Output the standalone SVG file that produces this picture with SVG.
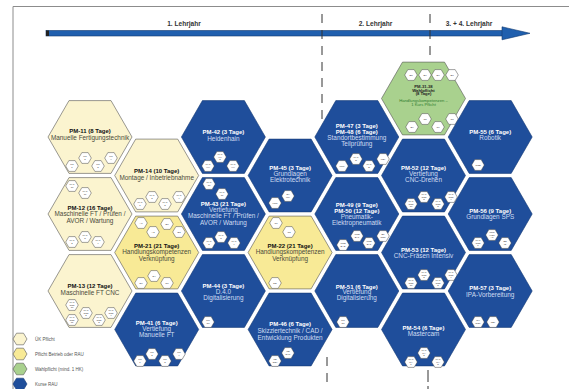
<svg xmlns="http://www.w3.org/2000/svg" xmlns:xlink="http://www.w3.org/1999/xlink" width="569" height="389" viewBox="0 0 569 389">
<style>
text{font-family:"Liberation Sans",Arial,sans-serif;text-anchor:middle}
.uk{fill:#fbf4cf;stroke:#555;stroke-width:.6}
.pf{fill:#f8ea96;stroke:#555;stroke-width:.6}
.wp{fill:#a9d18e;stroke:#555;stroke-width:.6}
.bl{fill:#1f4e9b;stroke:#163a75;stroke-width:.6}
.bd{fill:#fff;stroke:#333;stroke-width:.45}
.tk{font-size:6px;font-weight:bold;fill:#111}
.sk{font-size:6.4px;fill:#4a4a3a}
.tw{font-size:6px;font-weight:bold;fill:#fff}
.sw{font-size:6.4px;fill:#cfdcf2}
.tg{font-size:4.2px;font-weight:bold;fill:#222}
.sg{font-size:4.2px;fill:#2f7d2f}
.bt{font-size:2.4px;fill:#333}
.lg{font-size:4.5px;fill:#555;text-anchor:start}
.yr{font-size:6.6px;font-weight:bold;fill:#333}
.dash{stroke:#333;stroke-width:1;stroke-dasharray:9 7;fill:none}
</style>
<defs>
<polygon id="hx" points="-42,0 -21,-36.4 21,-36.4 42,0 21,36.4 -21,36.4"/>
<polygon id="sb" points="-6.3,0 -3.15,-5.4 3.15,-5.4 6.3,0 3.15,5.4 -3.15,5.4"/>
<polygon id="lh" points="-7,0 -3.5,-5.8 3.5,-5.8 7,0 3.5,5.8 -3.5,5.8"/>
</defs>

<g id="frame">
<line x1="13" y1="6.5" x2="569" y2="6.5" stroke="#8c8c8c" stroke-width="1"/>
<line x1="13" y1="6.5" x2="13" y2="389" stroke="#8c8c8c" stroke-width="1"/>
</g>

<g id="timeline">
<rect x="46" y="30.5" width="458" height="5.5" fill="#1f5fae" stroke="#123a70" stroke-width=".6"/>
<rect x="46" y="30.5" width="3" height="5.5" fill="#222"/>
<polygon points="502,26.8 530,33.3 502,39.8" fill="#1f5fae" stroke="#123a70" stroke-width=".6"/>
<text class="yr" x="184" y="26">1. Lehrjahr</text>
<text class="yr" x="375.5" y="26">2. Lehrjahr</text>
<text class="yr" x="469" y="26">3. + 4. Lehrjahr</text>
</g>

<g id="connectors">
<line class="dash" x1="322" y1="14" x2="322" y2="122"/>
<line class="dash" x1="430" y1="14" x2="430" y2="60"/>
<line class="dash" x1="327" y1="357" x2="327" y2="389"/>
<line x1="428" y1="370" x2="428" y2="382" stroke="#333" stroke-width="1"/>
<line x1="428" y1="386" x2="428" y2="389" stroke="#333" stroke-width="1"/>
</g>

<g id="pm11">
<use xlink:href="#hx" x="90" y="137" class="uk"/>
<text class="tk" x="90" y="133">PM-11 (8 Tage)</text>
<text class="sk" x="90" y="139.5">Manuelle Fertigungstechnik</text>
<use xlink:href="#sb" x="72" y="166" class="bd"/><text class="bt" x="72" y="165.4">MT</text><text class="bt" x="72" y="168.2">1</text>
<use xlink:href="#sb" x="85" y="158" class="bd"/><text class="bt" x="85" y="157.4">MT</text><text class="bt" x="85" y="160.2">2</text>
<use xlink:href="#sb" x="98" y="166" class="bd"/><text class="bt" x="98" y="165.4">MT</text><text class="bt" x="98" y="168.2">3</text>
<use xlink:href="#sb" x="111" y="158" class="bd"/><text class="bt" x="111" y="157.4">MT</text><text class="bt" x="111" y="160.2">4</text>
</g>

<g id="pm12">
<use xlink:href="#hx" x="90" y="214" class="uk"/>
<text class="tk" x="90" y="210">PM-12 (16 Tage)</text>
<text class="sk" x="90" y="216.3">Maschinelle FT / Prüfen /</text>
<text class="sk" x="90" y="222.6">AVOR / Wartung</text>
<use xlink:href="#sb" x="72" y="186" class="bd"/><text class="bt" x="72" y="185.4">MAT</text><text class="bt" x="72" y="188.2">10</text>
<use xlink:href="#sb" x="85" y="193" class="bd"/><text class="bt" x="85" y="192.4">MAT</text><text class="bt" x="85" y="195.2">17</text>
<use xlink:href="#sb" x="72" y="242" class="bd"/><text class="bt" x="72" y="241.4">MAT</text><text class="bt" x="72" y="244.2">2</text>
<use xlink:href="#sb" x="85" y="237" class="bd"/><text class="bt" x="85" y="236.4">MAT</text><text class="bt" x="85" y="239.2">3</text>
<use xlink:href="#sb" x="98" y="242" class="bd"/><text class="bt" x="98" y="241.4">MAT</text><text class="bt" x="98" y="244.2">4</text>
</g>

<g id="pm13">
<use xlink:href="#hx" x="90" y="291" class="uk"/>
<text class="tk" x="90" y="288">PM-13 (12 Tage)</text>
<text class="sk" x="90" y="294.5">Maschinelle FT CNC</text>
<use xlink:href="#sb" x="72" y="305" class="bd"/><text class="bt" x="72" y="303.4">MAT</text><text class="bt" x="72" y="305.8">CNC</text><text class="bt" x="72" y="308.2">10</text>
<use xlink:href="#sb" x="72" y="320" class="bd"/><text class="bt" x="72" y="318.4">MAT</text><text class="bt" x="72" y="320.8">CNC</text><text class="bt" x="72" y="323.2">11</text>
<use xlink:href="#sb" x="86" y="313" class="bd"/><text class="bt" x="86" y="311.4">MAT</text><text class="bt" x="86" y="313.8">CNC</text><text class="bt" x="86" y="316.2">2</text>
<use xlink:href="#sb" x="99" y="320" class="bd"/><text class="bt" x="99" y="318.4">MAT</text><text class="bt" x="99" y="320.8">CNC</text><text class="bt" x="99" y="323.2">3</text>
<use xlink:href="#sb" x="111" y="313" class="bd"/><text class="bt" x="111" y="311.4">MAT</text><text class="bt" x="111" y="313.8">CNC</text><text class="bt" x="111" y="316.2">4</text>
</g>

<g id="pm14">
<use xlink:href="#hx" x="156.7" y="175.5" class="uk"/>
<text class="tk" x="156.7" y="173">PM-14 (10 Tage)</text>
<text class="sk" x="156.7" y="179.5">Montage / Inbetriebnahme</text>
<use xlink:href="#sb" x="140" y="204" class="bd"/><text class="bt" x="140" y="203.4">MAT</text><text class="bt" x="140" y="206.2">1</text>
<use xlink:href="#sb" x="152" y="197" class="bd"/><text class="bt" x="152" y="196.4">MAT</text><text class="bt" x="152" y="199.2">2</text>
<use xlink:href="#sb" x="165" y="204" class="bd"/><text class="bt" x="165" y="203.4">MAT</text><text class="bt" x="165" y="206.2">3</text>
<use xlink:href="#sb" x="179" y="197" class="bd"/><text class="bt" x="179" y="196.4">MAT</text><text class="bt" x="179" y="199.2">4</text>
</g>

<g id="pm21">
<use xlink:href="#hx" x="156.7" y="252.5" class="pf"/>
<text class="tk" x="156.7" y="248">PM-21 (21 Tage)</text>
<text class="sk" x="156.7" y="254.3">Handlungskompetenzen</text>
<text class="sk" x="156.7" y="261">Verknüpfung</text>
<use xlink:href="#sb" x="141" y="223" class="bd"/><text class="bt" x="141" y="223.8">A1</text>
<use xlink:href="#sb" x="153" y="232" class="bd"/><text class="bt" x="153" y="232.8">A2</text>
<use xlink:href="#sb" x="167" y="224" class="bd"/><text class="bt" x="167" y="224.8">B1</text>
<use xlink:href="#sb" x="179" y="232" class="bd"/><text class="bt" x="179" y="232.8">B2</text>
<use xlink:href="#sb" x="141" y="283" class="bd"/><text class="bt" x="141" y="283.8">E1</text>
<use xlink:href="#sb" x="154" y="276" class="bd"/><text class="bt" x="154" y="276.8">E4</text>
<use xlink:href="#sb" x="167" y="283" class="bd"/><text class="bt" x="167" y="283.8">D1</text>
</g>

<g id="pm41">
<use xlink:href="#hx" x="156.7" y="329.5" class="bl"/>
<text class="tw" x="156.7" y="324.5">PM-41 (6 Tage)</text>
<text class="sw" x="156.7" y="330.5">Vertiefung</text>
<text class="sw" x="156.7" y="336.5">Manuelle FT</text>
<use xlink:href="#sb" x="140" y="361" class="bd"/><text class="bt" x="140" y="360.4">MT</text><text class="bt" x="140" y="363.2">1</text>
<use xlink:href="#sb" x="152" y="354" class="bd"/><text class="bt" x="152" y="353.4">MT</text><text class="bt" x="152" y="356.2">2</text>
<use xlink:href="#sb" x="165" y="361" class="bd"/><text class="bt" x="165" y="360.4">MT</text><text class="bt" x="165" y="363.2">3</text>
<use xlink:href="#sb" x="179" y="354" class="bd"/><text class="bt" x="179" y="353.4">MT</text><text class="bt" x="179" y="356.2">4</text>
</g>

<g id="pm42">
<use xlink:href="#hx" x="223.4" y="137" class="bl"/>
<text class="tw" x="223.4" y="134">PM-42 (3 Tage)</text>
<text class="sw" x="223.4" y="140.5">Heidenhain</text>
<use xlink:href="#sb" x="208" y="166" class="bd"/><text class="bt" x="208" y="165.4">MAT</text><text class="bt" x="208" y="168.2">HH</text>
<use xlink:href="#sb" x="220" y="157" class="bd"/><text class="bt" x="220" y="155.4">MAT</text><text class="bt" x="220" y="157.8">HH</text><text class="bt" x="220" y="160.2">2</text>
<use xlink:href="#sb" x="233" y="166" class="bd"/><text class="bt" x="233" y="165.4">MAT</text><text class="bt" x="233" y="168.2">HH</text>
</g>

<g id="pm43">
<use xlink:href="#hx" x="223.4" y="214" class="bl"/>
<text class="tw" x="223.4" y="206">PM-43 (21 Tage)</text>
<text class="sw" x="223.4" y="212">Vertiefung</text>
<text class="sw" x="223.4" y="218.3">Maschinelle FT / Prüfen /</text>
<text class="sw" x="223.4" y="224.6">AVOR / Wartung</text>
<use xlink:href="#sb" x="209" y="184" class="bd"/><text class="bt" x="209" y="183.4">MAT</text><text class="bt" x="209" y="186.2">10</text>
<use xlink:href="#sb" x="222" y="194" class="bd"/><text class="bt" x="222" y="193.4">MAT</text><text class="bt" x="222" y="196.2">17</text>
<use xlink:href="#sb" x="209" y="243" class="bd"/><text class="bt" x="209" y="242.4">MAT</text><text class="bt" x="209" y="245.2">2</text>
<use xlink:href="#sb" x="221" y="237" class="bd"/><text class="bt" x="221" y="236.4">MAT</text><text class="bt" x="221" y="239.2">3</text>
<use xlink:href="#sb" x="234" y="243" class="bd"/><text class="bt" x="234" y="242.4">MAT</text><text class="bt" x="234" y="245.2">4</text>
</g>

<g id="pm44">
<use xlink:href="#hx" x="223.4" y="291" class="bl"/>
<text class="tw" x="223.4" y="288">PM-44 (3 Tage)</text>
<text class="sw" x="223.4" y="294">D.4.0</text>
<text class="sw" x="223.4" y="300">Digitalisierung</text>
<use xlink:href="#sb" x="208" y="322" class="bd"/><text class="bt" x="208" y="321.4">PM</text><text class="bt" x="208" y="324.2">C1</text>
</g>

<g id="pm45">
<use xlink:href="#hx" x="290.1" y="175.5" class="bl"/>
<text class="tw" x="290.1" y="170">PM-45 (3 Tage)</text>
<text class="sw" x="290.1" y="176.2">Grundlagen</text>
<text class="sw" x="290.1" y="182.4">Elektrotechnik</text>
<use xlink:href="#sb" x="275" y="203" class="bd"/><text class="bt" x="275" y="203.8">LRR</text>
<use xlink:href="#sb" x="288" y="196" class="bd"/><text class="bt" x="288" y="195.4">EV</text><text class="bt" x="288" y="198.2">WK</text>
</g>

<g id="pm22">
<use xlink:href="#hx" x="290.1" y="252.5" class="pf"/>
<text class="tk" x="290.1" y="248">PM-22 (21 Tage)</text>
<text class="sk" x="290.1" y="254.3">Handlungskompetenzen</text>
<text class="sk" x="290.1" y="261">Verknüpfung</text>
<use xlink:href="#sb" x="276" y="223" class="bd"/><text class="bt" x="276" y="223.8">C1</text>
<use xlink:href="#sb" x="289" y="232" class="bd"/><text class="bt" x="289" y="232.8">C2</text>
<use xlink:href="#sb" x="275" y="283" class="bd"/><text class="bt" x="275" y="283.8">DE</text>
</g>

<g id="pm46">
<use xlink:href="#hx" x="290.1" y="329.5" class="bl"/>
<text class="tw" x="290.1" y="326">PM-46 (6 Tage)</text>
<text class="sw" x="290.1" y="332.8">Skizziertechnik / CAD /</text>
<text class="sw" x="290.1" y="339.6">Entwicklung Produkten</text>
<use xlink:href="#sb" x="275" y="361" class="bd"/><text class="bt" x="275" y="360.4">PE</text><text class="bt" x="275" y="363.2">DE4</text>
<use xlink:href="#sb" x="288" y="353" class="bd"/><text class="bt" x="288" y="352.4">PE</text><text class="bt" x="288" y="355.2">EXP</text>
</g>

<g id="pm47">
<use xlink:href="#hx" x="356.8" y="137" class="bl"/>
<text class="tw" x="356.8" y="128">PM-47 (3 Tage)</text>
<text class="tw" x="356.8" y="134">PM-48 (6 Tage)</text>
<text class="sw" x="356.8" y="140">Standortbestimmung</text>
<text class="sw" x="356.8" y="146">Teilprüfung</text>
<use xlink:href="#sb" x="342" y="166" class="bd"/><text class="bt" x="342" y="166.8">MPT</text>
<use xlink:href="#sb" x="356" y="159" class="bd"/><text class="bt" x="356" y="158.4">MAT</text><text class="bt" x="356" y="161.2">D</text>
<use xlink:href="#sb" x="369" y="166" class="bd"/><text class="bt" x="369" y="165.4">MAT</text><text class="bt" x="369" y="168.2">E</text>
<use xlink:href="#sb" x="383" y="159" class="bd"/><text class="bt" x="383" y="159.8">MEI</text>
</g>

<g id="pm49">
<use xlink:href="#hx" x="356.8" y="214" class="bl"/>
<text class="tw" x="356.8" y="207">PM-49 (9 Tage)</text>
<text class="tw" x="356.8" y="213">PM-50 (12 Tage)</text>
<text class="sw" x="356.8" y="219">Pneumatik-</text>
<text class="sw" x="356.8" y="225">Elektropneumatik</text>
<use xlink:href="#sb" x="343" y="245" class="bd"/><text class="bt" x="343" y="244.4">UNS</text><text class="bt" x="343" y="247.2">BAS</text>
<use xlink:href="#sb" x="357" y="236" class="bd"/><text class="bt" x="357" y="235.4">UNS</text><text class="bt" x="357" y="238.2">BAT</text>
<use xlink:href="#sb" x="369" y="243" class="bd"/><text class="bt" x="369" y="242.4">UNS</text><text class="bt" x="369" y="245.2">BAT</text>
<use xlink:href="#sb" x="383" y="236" class="bd"/><text class="bt" x="383" y="235.4">BT</text><text class="bt" x="383" y="238.2">NZR</text>
</g>

<g id="pm51">
<use xlink:href="#hx" x="356.8" y="291" class="bl"/>
<text class="tw" x="356.8" y="288.5">PM-51 (6 Tage)</text>
<text class="sw" x="356.8" y="294.3">Vertiefung</text>
<text class="sw" x="356.8" y="300">Digitalisierung</text>
<use xlink:href="#sb" x="343" y="322" class="bd"/><text class="bt" x="343" y="321.4">PM</text><text class="bt" x="343" y="324.2">C1</text>
</g>

<g id="pm31">
<use xlink:href="#hx" x="423.5" y="98.5" class="wp"/>
<text class="tg" x="423.5" y="88">PM-31-38</text>
<text class="tg" x="423.5" y="91.6">Wahlpflicht</text>
<text class="tg" x="423.5" y="95.2">(8 Tage)</text>
<text class="sg" x="423.5" y="102.3">Handlungskompetenzen –</text>
<text class="sg" x="423.5" y="105.8">1 Kurs Pflicht</text>
<use xlink:href="#sb" x="411" y="75" class="bd"/><text class="bt" x="411" y="75.8">B5</text>
<use xlink:href="#sb" x="425" y="75" class="bd"/><text class="bt" x="425" y="75.8">B6</text>
<use xlink:href="#sb" x="438" y="75" class="bd"/><text class="bt" x="438" y="75.8">B7</text>
<use xlink:href="#sb" x="452" y="75" class="bd"/><text class="bt" x="452" y="75.8">B8</text>
<use xlink:href="#sb" x="412" y="127" class="bd"/><text class="bt" x="412" y="127.8">B9</text>
<use xlink:href="#sb" x="425" y="119" class="bd"/><text class="bt" x="425" y="119.8">C5</text>
<use xlink:href="#sb" x="438" y="127" class="bd"/><text class="bt" x="438" y="127.8">C6</text>
<use xlink:href="#sb" x="452" y="119" class="bd"/><text class="bt" x="452" y="119.8">C8</text>
</g>

<g id="pm52">
<use xlink:href="#hx" x="423.5" y="175.5" class="bl"/>
<text class="tw" x="423.5" y="170">PM-52 (12 Tage)</text>
<text class="sw" x="423.5" y="176">Vertiefung</text>
<text class="sw" x="423.5" y="182">CNC-Drehen</text>
<use xlink:href="#sb" x="411" y="204" class="bd"/><text class="bt" x="411" y="202.4">MAT</text><text class="bt" x="411" y="204.8">CNC</text><text class="bt" x="411" y="207.2">10</text>
<use xlink:href="#sb" x="424" y="197" class="bd"/><text class="bt" x="424" y="195.4">MAT</text><text class="bt" x="424" y="197.8">CNC</text><text class="bt" x="424" y="200.2">2</text>
<use xlink:href="#sb" x="438" y="204" class="bd"/><text class="bt" x="438" y="202.4">MAT</text><text class="bt" x="438" y="204.8">CNC</text><text class="bt" x="438" y="207.2">3</text>
<use xlink:href="#sb" x="451" y="197" class="bd"/><text class="bt" x="451" y="195.4">MAT</text><text class="bt" x="451" y="197.8">CNC</text><text class="bt" x="451" y="200.2">4</text>
</g>

<g id="pm53">
<use xlink:href="#hx" x="423.5" y="252.5" class="bl"/>
<text class="tw" x="423.5" y="252">PM-53 (12 Tage)</text>
<text class="sw" x="423.5" y="258.3">CNC-Fräsen Intensiv</text>
<use xlink:href="#sb" x="411" y="283" class="bd"/><text class="bt" x="411" y="281.4">MAT</text><text class="bt" x="411" y="283.8">CNC</text><text class="bt" x="411" y="286.2">10</text>
<use xlink:href="#sb" x="424" y="275" class="bd"/><text class="bt" x="424" y="273.4">MAT</text><text class="bt" x="424" y="275.8">CNC</text><text class="bt" x="424" y="278.2">2</text>
<use xlink:href="#sb" x="438" y="283" class="bd"/><text class="bt" x="438" y="281.4">MAT</text><text class="bt" x="438" y="283.8">CNC</text><text class="bt" x="438" y="286.2">3</text>
<use xlink:href="#sb" x="451" y="275" class="bd"/><text class="bt" x="451" y="273.4">MAT</text><text class="bt" x="451" y="275.8">CNC</text><text class="bt" x="451" y="278.2">4</text>
</g>

<g id="pm54">
<use xlink:href="#hx" x="423.5" y="329.5" class="bl"/>
<text class="tw" x="423.5" y="330">PM-54 (6 Tage)</text>
<text class="sw" x="423.5" y="336.3">Mastercam</text>
<use xlink:href="#sb" x="411" y="362" class="bd"/><text class="bt" x="411" y="360.4">MAT</text><text class="bt" x="411" y="362.8">MA</text><text class="bt" x="411" y="365.2">1</text>
<use xlink:href="#sb" x="424" y="353" class="bd"/><text class="bt" x="424" y="351.4">MAT</text><text class="bt" x="424" y="353.8">MA</text><text class="bt" x="424" y="356.2">2</text>
<use xlink:href="#sb" x="438" y="362" class="bd"/><text class="bt" x="438" y="360.4">MAT</text><text class="bt" x="438" y="362.8">MA</text><text class="bt" x="438" y="365.2">3</text>
</g>

<g id="pm55">
<use xlink:href="#hx" x="490.2" y="137" class="bl"/>
<text class="tw" x="490.2" y="133.5">PM-55 (6 Tage)</text>
<text class="sw" x="490.2" y="140">Robotik</text>
<use xlink:href="#sb" x="478" y="165" class="bd"/><text class="bt" x="478" y="165.8">ROB</text>
</g>

<g id="pm56">
<use xlink:href="#hx" x="490.2" y="214" class="bl"/>
<text class="tw" x="490.2" y="212.5">PM-56 (9 Tage)</text>
<text class="sw" x="490.2" y="219">Grundlagen SPS</text>
<use xlink:href="#sb" x="478" y="243" class="bd"/><text class="bt" x="478" y="241.4">MAT</text><text class="bt" x="478" y="243.8">CNC</text><text class="bt" x="478" y="246.2">1</text>
<use xlink:href="#sb" x="492" y="235" class="bd"/><text class="bt" x="492" y="233.4">PRG</text><text class="bt" x="492" y="235.8">VISU</text><text class="bt" x="492" y="238.2">AT</text>
<use xlink:href="#sb" x="505" y="243" class="bd"/><text class="bt" x="505" y="242.4">BS</text><text class="bt" x="505" y="245.2">IS</text>
</g>

<g id="pm57">
<use xlink:href="#hx" x="490.2" y="291" class="bl"/>
<text class="tw" x="490.2" y="290">PM-57 (3 Tage)</text>
<text class="sw" x="490.2" y="296.5">IPA-Vorbereitung</text>
<use xlink:href="#sb" x="478" y="322" class="bd"/><text class="bt" x="478" y="321.4">QV</text><text class="bt" x="478" y="324.2">DOK</text>
<use xlink:href="#sb" x="493" y="322" class="bd"/><text class="bt" x="493" y="322.8">TBL</text>
</g>

<g id="legend">
<use xlink:href="#lh" x="20" y="339" class="uk"/>
<text class="lg" x="35" y="340.7">ÜK Pflicht</text>
<use xlink:href="#lh" x="20" y="354" class="pf"/>
<text class="lg" x="35" y="355.7">Pflicht Betrieb oder RAU</text>
<use xlink:href="#lh" x="20" y="369" class="wp"/>
<text class="lg" x="35" y="370.7">Wahlpflicht (mind. 1 HK)</text>
<use xlink:href="#lh" x="20" y="384" class="bl"/>
<text class="lg" x="35" y="385.7">Kurse RAU</text>
</g>
</svg>
